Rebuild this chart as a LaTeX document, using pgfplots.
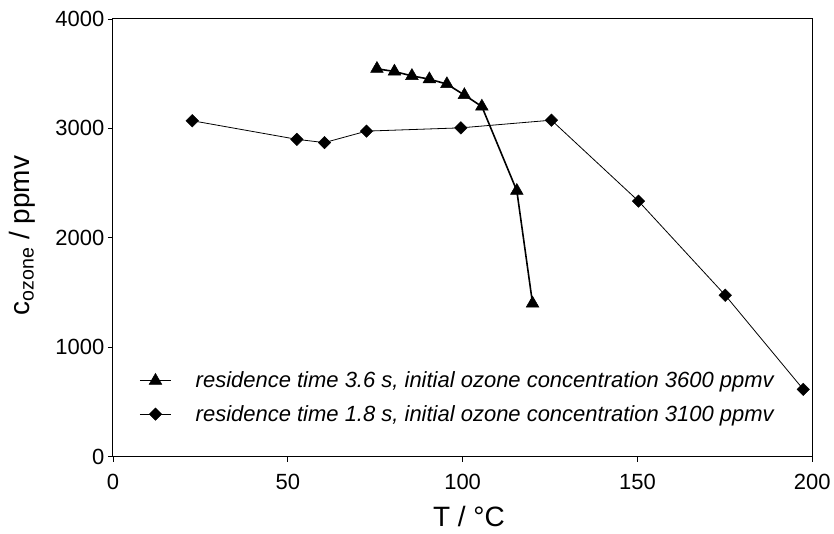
\documentclass[border=0pt]{standalone}
\usepackage{fontspec}
\setmainfont{Liberation Sans}
\usepackage{pgfplots}
\pgfplotsset{compat=1.18}
\begin{document}
\begin{tikzpicture}
\begin{axis}[name=ax, scale only axis, width=700pt, height=438pt,
 xmin=0,xmax=200,ymin=0,ymax=4000,
 xtick={0,50,100,150,200}, ytick={0,1000,2000,3000,4000},
 xtick pos=bottom, ytick pos=left, tick align=outside, major tick length=5pt,
 axis line style={line width=1pt},
 every tick/.style={line width=0.8pt, black},
 tick label style={font=\fontsize{22}{26}\selectfont},
 xticklabel style={yshift=-9pt},
 /pgf/number format/assume math mode=true,
 /pgf/number format/set thousands separator={},
 scaled ticks=false,
 xlabel={T / °C}, ylabel={c\textsubscript{ozone} / ppmv},
 label style={font=\fontsize{28}{33}\selectfont},
 xlabel style={at={(axis description cs:0.509,-0.160)}, anchor=base},
 ylabel style={at={(axis description cs:-0.1186,0.505)}, anchor=base},
 legend style={draw=none, fill=none, at={(axis description cs:0.033,0.203)}, anchor=north west,
   font=\fontsize{22}{26}\selectfont\itshape, row sep=12pt},
 legend cell align=left,
 legend image code/.code={\draw[mark repeat=2,mark phase=2] plot coordinates {(0pt,0pt)(15.5pt,0pt)(31pt,0pt)};\path (0pt,0pt) (53pt,0pt);},
]
\addplot[black, line width=1.6pt, mark=triangle*, mark size=7.3pt, mark options={solid, line width=0.5pt}]
 coordinates {(75.5,3545)(80.5,3520)(85.5,3480)(90.5,3450)(95.5,3405)(100.5,3305)(105.5,3200)(115.5,2430)(120,1400)};
\addlegendentry{residence time 3.6 s, initial ozone concentration 3600 ppmv}
\addplot[black, line width=0.8pt, mark=square*, mark size=4.4pt, mark options={solid, rotate=45, line width=0.5pt}]
 coordinates {(22.7,3070)(52.6,2900)(60.5,2870)(72.5,2975)(99.5,3005)(125.4,3075)(150.3,2335)(175.1,1475)(197.4,615)};
\addlegendentry{residence time 1.8 s, initial ozone concentration 3100 ppmv}
\end{axis}
\path[use as bounding box] ([xshift=-113pt,yshift=-77pt]ax.south west) rectangle ([xshift=21pt,yshift=19pt]ax.north east);
\end{tikzpicture}
\end{document}
